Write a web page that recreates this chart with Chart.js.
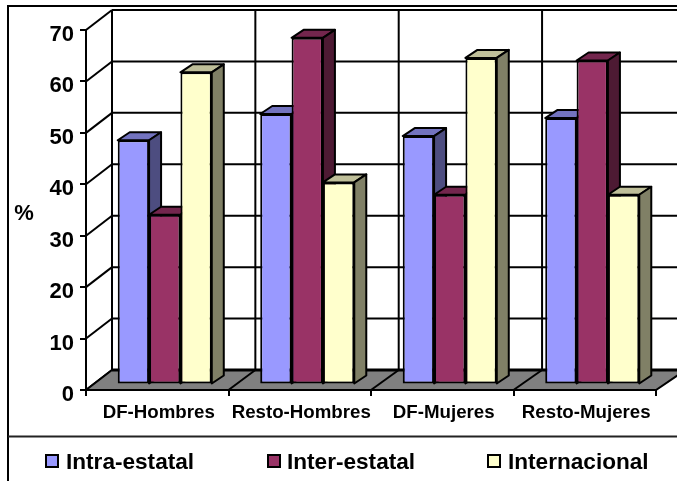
<!DOCTYPE html>
<html>
<head>
<meta charset="utf-8">
<title>Migración por tipo</title>
<style>
  html, body { margin: 0; padding: 0; background: #fff; }
  #wrap { width: 677px; height: 481px; }
</style>
<script src="https://cdn.jsdelivr.net/npm/chart.js@4"></script>
</head>
<body>
<div id="wrap"><canvas id="chart" width="677" height="481"></canvas></div>
<script>
const categories = ['DF-Hombres', 'Resto-Hombres', 'DF-Mujeres', 'Resto-Mujeres'];
const intraEstatal = [47.5, 52.6, 48.3, 51.8];
const interEstatal = [33, 67.4, 36.9, 63];
const internacional = [60.7, 39.3, 63.5, 36.9];
const yTicksMax = 70;
const yTicksStep = 10;
const axisTitle = '%';

const FONT = '"Liberation Sans", Arial, sans-serif';

// depth of the box behind the front axes
const WALL_DX = 26;
const WALL_DY = 20;
const WALL_STRETCH = 1.006;
// where the bars stand on the floor, and how deep each one is
const BAR_DX = 7.5;
const BAR_DY = 5.5;
const DEPTH_DX = 12;
const DEPTH_DY = 8;

function polygon(ctx, pts, fill) {
  ctx.beginPath();
  pts.forEach((p, i) => i ? ctx.lineTo(p[0], p[1]) : ctx.moveTo(p[0], p[1]));
  ctx.closePath();
  ctx.fillStyle = fill;
  ctx.fill();
  ctx.stroke();
}

function line(ctx, x1, y1, x2, y2) {
  ctx.beginPath();
  ctx.moveTo(x1, y1);
  ctx.lineTo(x2, y2);
  ctx.stroke();
}

// frame, back wall, side wall and floor
const boxPlugin = {
  id: 'box',
  beforeDraw(chart) {
    const { ctx, chartArea: area, scales } = chart;
    const backX = px => area.left + WALL_DX + (px - area.left) * WALL_STRETCH;
    const backRight = backX(area.right);
    ctx.save();
    ctx.strokeStyle = '#000';

    ctx.lineWidth = 2;
    ctx.beginPath();
    ctx.moveTo(8, 481);
    ctx.lineTo(8, 6);
    ctx.lineTo(677, 6);
    ctx.stroke();
    ctx.strokeStyle = '#222';
    line(ctx, 8, 436.5, 677, 436.5);
    ctx.strokeStyle = '#000';

    for (let v = 0; v <= yTicksMax; v += yTicksStep) {
      const y = scales.y.getPixelForValue(v);
      line(ctx, area.left, y, area.left + WALL_DX, y - WALL_DY);
      line(ctx, area.left + WALL_DX, y - WALL_DY, backRight, y - WALL_DY);
    }
    for (let i = 0; i < categories.length; i++) {
      const x = backX(area.left + (area.right - area.left) * i / categories.length);
      line(ctx, x, area.top - WALL_DY, x, area.bottom - WALL_DY);
    }

    polygon(ctx, [
      [area.left, area.bottom],
      [area.right, area.bottom],
      [backRight, area.bottom - WALL_DY],
      [backX(area.left), area.bottom - WALL_DY]
    ], '#808080');
    ctx.lineWidth = 3;
    line(ctx, backX(area.left), area.bottom - WALL_DY, backRight, area.bottom - WALL_DY);
    ctx.lineWidth = 2;
    for (let i = 1; i < categories.length; i++) {
      const f = area.left + (area.right - area.left) * i / categories.length;
      line(ctx, f, area.bottom, backX(f), area.bottom - WALL_DY);
    }
    ctx.restore();
  }
};

// Series are painted left to right so each bar covers its neighbour's side face.
// Returning false stops the library's own pass, which runs the other way round.
const depthPlugin = {
  id: 'depth',
  beforeDatasetsDraw(chart) {
    const { ctx } = chart;
    ctx.save();
    ctx.translate(BAR_DX, -BAR_DY);
    chart.data.datasets.forEach((ds, index) => {
      const meta = chart.getDatasetMeta(index);
      ctx.strokeStyle = '#000';
      ctx.lineWidth = 2;
      ctx.lineJoin = 'round';
      meta.data.forEach(bar => {
        const left = bar.x - bar.width / 2;
        const right = bar.x + bar.width / 2;
        polygon(ctx, [
          [left, bar.y],
          [left + DEPTH_DX, bar.y - DEPTH_DY],
          [right + DEPTH_DX, bar.y - DEPTH_DY],
          [right, bar.y]
        ], ds.topColor);
        polygon(ctx, [
          [right, bar.y],
          [right + DEPTH_DX, bar.y - DEPTH_DY],
          [right + DEPTH_DX, bar.base - DEPTH_DY],
          [right, bar.base]
        ], ds.sideColor);
      });
      meta.controller.draw();
    });
    ctx.restore();
    return false;
  }
};

// axis title and the legend row under the divider
const textPlugin = {
  id: 'texts',
  afterDraw(chart) {
    const { ctx } = chart;
    const swatchX = [46, 268, 488];
    const labelX = [66, 287, 508];
    ctx.save();
    ctx.fillStyle = '#000';
    ctx.font = 'bold 22px ' + FONT;
    ctx.textBaseline = 'middle';
    ctx.textAlign = 'center';
    ctx.fillText(axisTitle, 24, 214);
    ctx.textAlign = 'left';
    ctx.font = 'bold 22.6px ' + FONT;
    chart.data.datasets.forEach((ds, i) => {
      ctx.fillStyle = ds.backgroundColor;
      ctx.strokeStyle = '#000';
      ctx.lineWidth = 2;
      ctx.fillRect(swatchX[i], 455, 12, 12);
      ctx.strokeRect(swatchX[i], 455, 12, 12);
      ctx.fillStyle = '#000';
      ctx.fillText(ds.label, labelX[i], 463);
    });
    ctx.restore();
  }
};

new Chart(document.getElementById('chart'), {
  type: 'bar',
  data: {
    labels: categories,
    datasets: [
      {
        label: 'Intra-estatal', data: intraEstatal,
        backgroundColor: '#9999FF', topColor: '#7373BF', sideColor: '#4D4D80'
      },
      {
        label: 'Inter-estatal', data: interEstatal,
        backgroundColor: '#993366', topColor: '#73264D', sideColor: '#4D1A33'
      },
      {
        label: 'Internacional', data: internacional,
        backgroundColor: '#FFFFCC', topColor: '#BFBF99', sideColor: '#808066'
      }
    ]
  },
  plugins: [boxPlugin, depthPlugin, textPlugin],
  options: {
    responsive: false,
    animation: false,
    layout: { padding: { left: 0, right: 21, top: 30, bottom: 0 } },
    datasets: {
      bar: {
        categoryPercentage: 0.66,
        barPercentage: 1,
        borderColor: '#000',
        borderWidth: 2,
        borderSkipped: false
      }
    },
    plugins: {
      legend: { display: false },
      tooltip: { enabled: false }
    },
    scales: {
      x: {
        afterFit(scale) { scale.height = 91; },
        border: { color: '#000', width: 2 },
        grid: { drawOnChartArea: false, color: '#000', tickLength: 6, lineWidth: 2 },
        ticks: {
          color: '#000',
          padding: 6,
          labelOffset: 1.5,
          maxRotation: 0,
          autoSkip: false,
          font: { family: FONT, size: 18.7, weight: 'bold' }
        }
      },
      y: {
        min: 0,
        max: yTicksMax,
        afterFit(scale) { scale.width = 86; },
        border: { color: '#000', width: 2 },
        grid: { drawOnChartArea: false, color: '#000', tickLength: 6, lineWidth: 2 },
        ticks: {
          stepSize: yTicksStep,
          color: '#000',
          padding: 6,
          labelOffset: 5,
          font: { family: FONT, size: 22, weight: 'bold' }
        }
      }
    }
  }
});
</script>
</body>
</html>
